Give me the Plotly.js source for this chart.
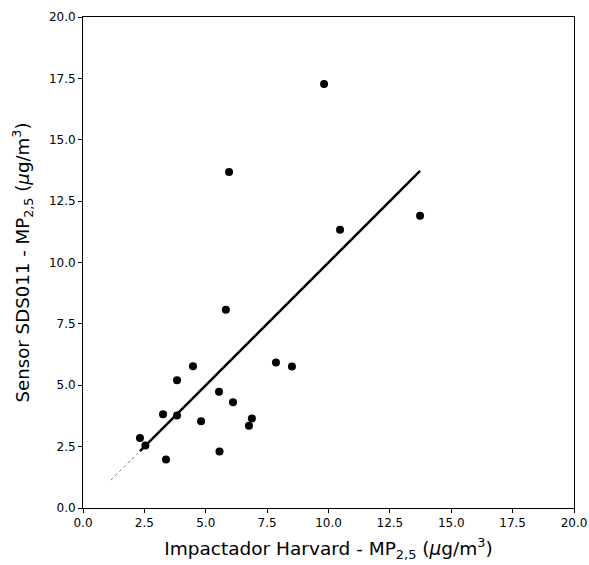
<!DOCTYPE html>
<html><head><meta charset="utf-8">
<script src="https://cdn.plot.ly/plotly-3.0.1.min.js"></script>
<style>body{margin:0;background:#fff}#c{width:589px;height:565px}</style>
</head><body><div id="c"></div>
<script>
const harvard = [9.82, 5.95, 10.47, 13.73, 5.82, 4.48, 7.86, 8.51, 3.83, 5.54, 6.11, 3.26, 3.83, 6.88, 6.76, 4.81, 2.32, 2.54, 3.38, 5.56];
const sds011  = [17.27, 13.69, 11.33, 11.90, 8.08, 5.77, 5.93, 5.76, 5.20, 4.74, 4.31, 3.82, 3.77, 3.65, 3.35, 3.53, 2.85, 2.55, 1.98, 2.30];
const fitSlope = 1.0;
const fitIntercept = 0.0;
const extStart = 1.13;
const tickVals = [0, 2.5, 5, 7.5, 10, 12.5, 15, 17.5, 20];

const xmin = Math.min(...harvard), xmax = Math.max(...harvard);
const f = x => fitSlope * x + fitIntercept;

const font = {family: 'DejaVu Sans, sans-serif', color: '#000'};
const data = [
  {x: [extStart, xmin], y: [f(extStart), f(xmin)], mode: 'lines', line: {color: '#888', width: 1, dash: 'dot'}, hoverinfo: 'skip'},
  {x: [xmin, xmax], y: [f(xmin), f(xmax)], mode: 'lines', line: {color: '#000', width: 2.5}},
  {x: harvard, y: sds011, mode: 'markers', marker: {color: '#000', size: 8}}
];
const axis = {
  range: [0, 20], tickvals: tickVals, tickformat: '.1f',
  showgrid: false, zeroline: false, showline: true, mirror: true,
  linecolor: '#000', linewidth: 1, ticks: 'outside', ticklen: 4, tickcolor: '#000',
  tickfont: Object.assign({size: 12}, font)
};
const layout = {
  width: 589, height: 565, showlegend: false,
  margin: {l: 83, r: 15, t: 17, b: 57},
  paper_bgcolor: '#fff', plot_bgcolor: '#fff',
  xaxis: Object.assign({}, axis, {title: {text: 'Impactador Harvard - MP<sub>2,5</sub> (<i>μ</i>g/m<sup>3</sup>)', font: Object.assign({size: 18.5}, font), standoff: 12}}),
  yaxis: Object.assign({}, axis, {title: {text: 'Sensor SDS011 - MP<sub>2,5</sub> (<i>μ</i>g/m<sup>3</sup>)', font: Object.assign({size: 18.2}, font), standoff: 14}})
};
Plotly.newPlot('c', data, layout, {staticPlot: true});
</script></body></html>
